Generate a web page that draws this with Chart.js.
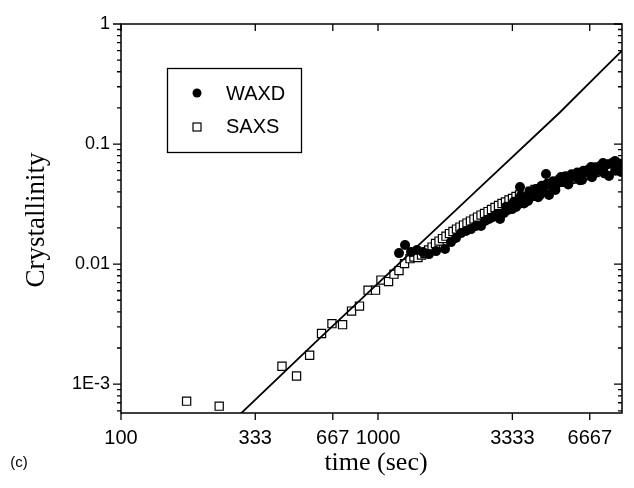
<!DOCTYPE html>
<html><head><meta charset="utf-8">
<script src="https://cdn.jsdelivr.net/npm/chart.js@4/dist/chart.umd.min.js"></script>
<style>html,body{margin:0;padding:0;background:#fff;}#wrap{width:634px;height:488px;}</style>
</head><body><div id="wrap"><canvas id="c" width="634" height="488"></canvas></div>
<script>
const xTicks = [100, 333, 667, 1000, 3333, 6667];
const xTickLabels = ['100', '333', '667', '1000', '3333', '6667'];
const yTicks = [0.001, 0.01, 0.1, 1];
const yTickLabels = ['1E-3', '0.01', '0.1', '1'];
const yMinorTicks = [0.0006,0.0007,0.0008,0.0009,
  0.002,0.003,0.004,0.005,0.006,0.007,0.008,0.009,
  0.02,0.03,0.04,0.05,0.06,0.07,0.08,0.09,
  0.2,0.3,0.4,0.5,0.6,0.7,0.8,0.9];

const saxsTime = [180,241,423,482,542,603,662,728,789,847,915,978,1027,1099,1154,1207,1268,1332,1380,1430,1477,1524,
  1573,1623,1674,1728,1782,1839,1897,1958,2020,2084,2151,2220,2290,2363,2439,2517,2597,2680,2765,2853,
  2944,3038,3134,3234,3337,3443,3553,3666,3800,3938,4083,4231,4385,4546,4712,4884,5062,5246,
  5438,5636,5842,6055,6276,6505,6742,6989,7243,7508,7780,8065,8359,8664];
const saxsCryst = [7.22e-4,6.56e-4,1.41e-3,1.17e-3,1.74e-3,2.64e-3,3.19e-3,3.13e-3,4.06e-3,4.47e-3,6.07e-3,6.07e-3,
  7.36e-3,7.15e-3,8.25e-3,8.83e-3,0.0101,0.0111,0.01144,0.01134,0.01189,0.01224,
  0.01309,0.01386,0.01483,0.01555,0.01631,0.0171,0.01795,0.01866,0.01957,0.02033,
  0.02113,0.02196,0.02282,0.02371,0.02464,0.0256,0.02636,0.02738,0.02846,0.02958,
  0.03073,0.03193,0.03287,0.03415,0.03515,0.03652,0.03758,0.03868,
  0.0398,0.0405,0.0418,0.0425,0.0438,0.0445,0.0459,0.0466,0.0480,0.0488,
  0.0503,0.0509,0.0522,0.0529,0.0545,0.0554,0.0570,0.0580,0.0598,0.0607,
  0.0626,0.0636,0.0655,0.0666];

const waxdTime = [1207,1274,1344,1418,1497,1579,1682,1823,1923,2011,2104,2200,2301,2406,2517,2609,2704,2802,2904,2984,
  3093,3205,3322,3443,3537,3569,3633,3733,3834,3938,4046,4156,4269,4385,4505,4628,4753,4883,5016,5153,
  5293,5438,5586,5738,5894,6055,6220,6389,6564,6742,6926,7115,7308,7508,7713,7922,8138,8359,8587,8820,
  3000,3150,3380,3600,3700,3880,4100,4200,4330,4560,4800,4900,5080,5360,5500,5660,5960,6100,
  6300,6650,6800,7000,7400,7600,7800,8250,8400,8700];
const waxdCryst = [0.01235,0.0144,0.01259,0.01308,0.01259,0.01211,0.01283,0.01334,0.01525,0.01647,
  0.01812,0.01884,0.01957,0.02074,0.02074,0.02282,0.02371,0.02464,0.0261,0.02371,
  0.02661,0.02818,0.02872,0.02985,0.03162,0.04381,0.0335,0.0348,0.0335,0.03616,
  0.03686,0.03831,0.03758,0.04135,0.05623,0.03758,0.04467,0.04552,0.04732,0.05309,
  0.04824,0.05012,0.05207,0.05411,0.05411,0.05623,0.05012,0.05843,0.06072,0.06433,
  0.0631,0.05957,0.06556,0.06944,0.06683,0.05411,0.06944,0.07214,0.06683,0.05843,
  0.0255,0.0300,0.0330,0.0370,0.0320,0.0400,0.0420,0.0360,0.0450,0.0470,0.0490,0.0415,0.0510,0.0540,
  0.0460,0.0560,0.0580,0.0500,0.0600,0.0620,0.0530,0.0640,0.0660,0.0570,0.0680,0.0700,0.0600,0.0690];

const fitTime = [280, 595, 1218, 2494, 5108, 7308, 8899];
const fitCryst = [5.2e-4, 2.43e-3, 0.0103, 0.0435, 0.184, 0.395, 0.60];

const pts = (xs, ys) => xs.map((v, i) => ({x: v, y: ys[i]}));

const deco = {
  id: 'deco',
  afterDraw(chart) {
    const {ctx, chartArea: a, scales: {x, y}} = chart;
    ctx.save();
    ctx.strokeStyle = '#000';
    ctx.lineWidth = 1.5;
    ctx.strokeRect(a.left, a.top, a.right - a.left, a.bottom - a.top);
    ctx.lineWidth = 1.3;
    ctx.beginPath();
    xTicks.forEach(v => {
      const px = x.getPixelForValue(v);
      ctx.moveTo(px, a.bottom); ctx.lineTo(px, a.bottom + 7);
      ctx.moveTo(px, a.top); ctx.lineTo(px, a.top + 7);
    });
    yTicks.forEach(v => {
      const py = y.getPixelForValue(v);
      ctx.moveTo(a.left - 8, py); ctx.lineTo(a.left, py);
      ctx.moveTo(a.right, py); ctx.lineTo(a.right - 8, py);
    });
    yMinorTicks.forEach(v => {
      if (v < y.min || v > y.max) return;
      const py = y.getPixelForValue(v);
      ctx.moveTo(a.left - 4, py); ctx.lineTo(a.left, py);
      ctx.moveTo(a.right, py); ctx.lineTo(a.right - 4, py);
    });
    ctx.stroke();

    ctx.fillStyle = '#000';
    ctx.textAlign = 'center';
    ctx.textBaseline = 'middle';
    ctx.font = '26px "Liberation Serif"';
    ctx.fillText('time (sec)', 376, 463);
    ctx.save();
    ctx.translate(37, 220);
    ctx.rotate(-Math.PI / 2);
    ctx.font = '27px "Liberation Serif"';
    ctx.fillText('Crystallinity', 0, 0);
    ctx.restore();
    ctx.font = '15px "Liberation Sans"';
    ctx.fillText('(c)', 19, 463);

    ctx.lineWidth = 1.3;
    ctx.strokeRect(167.5, 68.5, 134, 84);
    ctx.beginPath();
    ctx.arc(197, 93, 4.5, 0, Math.PI * 2);
    ctx.fill();
    ctx.fillStyle = '#fff';
    ctx.fillRect(193, 123, 8, 8);
    ctx.lineWidth = 1.2;
    ctx.strokeRect(193, 123, 8, 8);
    ctx.fillStyle = '#000';
    ctx.textAlign = 'left';
    ctx.font = '20px "Liberation Sans"';
    ctx.fillText('WAXD', 226, 94);
    ctx.fillText('SAXS', 226, 127);
    ctx.restore();
  }
};

new Chart(document.getElementById('c'), {
  type: 'scatter',
  data: {
    datasets: [
      {label: 'fit', data: pts(fitTime, fitCryst), showLine: true, borderColor: '#000', borderWidth: 1.8,
        pointRadius: 0, fill: false, order: 0, tension: 0},
      {label: 'WAXD', data: pts(waxdTime, waxdCryst), pointStyle: 'circle', pointRadius: 5,
        backgroundColor: '#000', borderColor: '#000', borderWidth: 0, order: 1},
      {label: 'SAXS', data: pts(saxsTime, saxsCryst), pointStyle: 'rect', pointRadius: 5.8,
        backgroundColor: '#fff', borderColor: '#000', borderWidth: 1.2, order: 2}
    ]
  },
  options: {
    responsive: false,
    animation: false,
    devicePixelRatio: 1,
    layout: {padding: {left: 0, right: 12, top: 24, bottom: 0}},
    plugins: {legend: {display: false}, tooltip: {enabled: false}},
    scales: {
      x: {
        type: 'logarithmic', min: 100, max: 8900,
        afterBuildTicks: s => { s.ticks = xTicks.map(v => ({value: v})); },
        afterFit: s => { s.height = 75; },
        ticks: {callback: (v, i) => xTickLabels[i], color: '#000', font: {family: 'Liberation Sans', size: 20},
          maxRotation: 0, autoSkip: false, padding: 13},
        grid: {display: false, drawTicks: false},
        border: {display: false}
      },
      y: {
        type: 'logarithmic', min: 5.75e-4, max: 1,
        afterBuildTicks: s => { s.ticks = yTicks.map(v => ({value: v})); },
        afterFit: s => { s.width = 121; },
        ticks: {callback: (v, i) => yTickLabels[i], color: '#000', font: {family: 'Liberation Sans', size: 18},
          autoSkip: false, padding: 11},
        grid: {display: false, drawTicks: false},
        border: {display: false}
      }
    }
  },
  plugins: [deco]
});
</script></body></html>
